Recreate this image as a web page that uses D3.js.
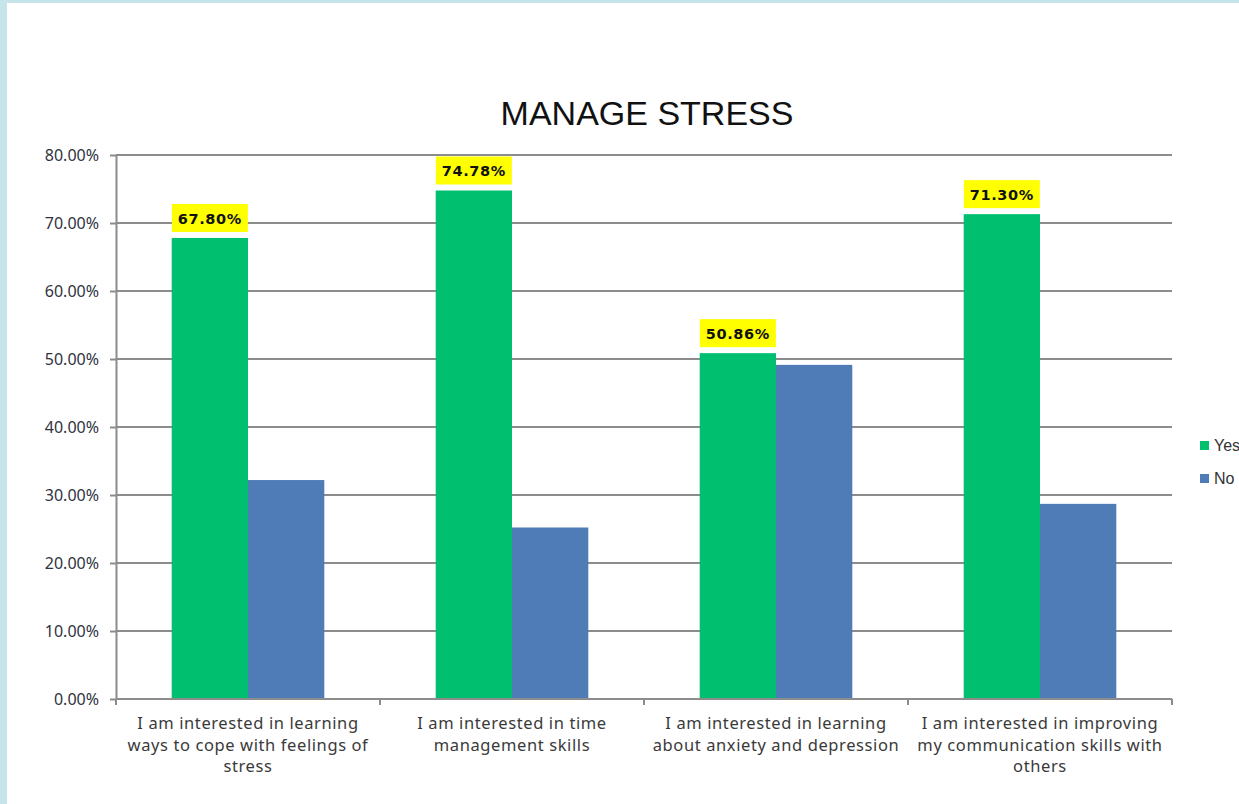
<!DOCTYPE html>
<html><head><meta charset="utf-8">
<script src="https://cdn.jsdelivr.net/npm/d3@7"></script>
<style>
html,body{margin:0;padding:0;background:#fff;}
svg{display:block;}
</style></head>
<body>
<svg id="chart" width="1239" height="804"></svg>
<script>
const categories = [
  ["I am interested in learning","ways to cope with feelings of","stress"],
  ["I am interested in time","management skills"],
  ["I am interested in learning","about anxiety and depression"],
  ["I am interested in improving","my communication skills with","others"]
];
const seriesNames = ["Yes","No"];
const yesValues = [67.80, 74.78, 50.86, 71.30];
const noValues = [32.20, 25.22, 49.14, 28.70];
const yTicks = [0,10,20,30,40,50,60,70,80];
const title = "MANAGE STRESS";
const colors = {Yes:"#00bf6f", No:"#4f7cb6"};

const svg = d3.select("#chart");
// slide background border
svg.append("rect").attr("x",0).attr("y",0).attr("width",1239).attr("height",804).attr("fill","#c6e4ea");
svg.append("rect").attr("x",7).attr("y",3).attr("width",1232).attr("height",801).attr("fill","#fff");

const m = {left:116, right:1172, top:155, bottom:699};
const x0 = d3.scaleBand().domain(d3.range(categories.length)).range([m.left, m.right]).paddingInner(0).paddingOuter(0);
const x1 = d3.scaleBand().domain(seriesNames).range([0, x0.bandwidth()]).paddingInner(0).paddingOuter(0.73);
const y = d3.scaleLinear().domain([0,80]).range([m.bottom, m.top]);

// gridlines
svg.append("g").selectAll("line").data(yTicks.filter(t=>t>0)).join("line")
  .attr("x1",m.left).attr("x2",m.right).attr("y1",d=>y(d)).attr("y2",d=>y(d))
  .attr("stroke","#8c8c8c").attr("stroke-width",2);

// y axis
const yAxis = svg.append("g").attr("transform",`translate(${m.left},0)`)
  .call(d3.axisLeft(y).tickValues(yTicks).tickSize(6).tickSizeOuter(0).tickFormat(d=>d.toFixed(2)+"%"));
yAxis.select(".domain").attr("stroke","#8c8c8c").attr("stroke-width",2);
yAxis.selectAll(".tick line").attr("stroke","#8c8c8c").attr("stroke-width",2);
yAxis.selectAll(".tick text").attr("font-family","Noto Sans").attr("font-size",16)
  .attr("fill","#2f3340").attr("x",-17);

// bars
const groups = svg.append("g").selectAll("g").data(categories.map((c,i)=>i)).join("g")
  .attr("transform",i=>`translate(${x0(i)},0)`);
groups.selectAll("rect").data(i=>[{k:"Yes",v:yesValues[i]},{k:"No",v:noValues[i]}]).join("rect")
  .attr("x",d=>x1(d.k)).attr("width",x1.bandwidth())
  .attr("y",d=>y(d.v)).attr("height",d=>y(0)-y(d.v))
  .attr("fill",d=>colors[d.k]);

// x axis
const xAxis = svg.append("g").attr("transform",`translate(0,${m.bottom})`);
xAxis.append("line").attr("x1",m.left).attr("x2",m.right).attr("y1",0).attr("y2",0)
  .attr("stroke","#8c8c8c").attr("stroke-width",2);
xAxis.selectAll("line.tk").data(d3.range(categories.length+1)).join("line").attr("class","tk")
  .attr("x1",i=> i<categories.length ? x0(i) : m.right).attr("x2",i=> i<categories.length ? x0(i) : m.right)
  .attr("y1",0).attr("y2",6).attr("stroke","#8c8c8c").attr("stroke-width",2);

// category labels
categories.forEach((lines,i)=>{
  const t = svg.append("text").attr("text-anchor","middle")
    .attr("font-family","Noto Sans").attr("font-size",16.5).attr("letter-spacing","0.6px").attr("fill","#3a3a3a");
  lines.forEach((ln,j)=>{
    t.append("tspan").attr("x",x0(i)+x0.bandwidth()/2).attr("y",729+j*21.5).text(ln);
  });
});

// data labels on Yes bars
yesValues.forEach((v,i)=>{
  const cx = x0(i)+x1("Yes")+x1.bandwidth()/2;
  const by = y(v)-6;
  svg.append("rect").attr("x",cx-38).attr("y",by-28).attr("width",76).attr("height",28).attr("fill","#ffff00");
  svg.append("text").attr("x",cx).attr("y",by-8).attr("text-anchor","middle")
    .attr("font-family","DejaVu Sans").attr("font-weight","bold").attr("font-size",14.5)
    .attr("letter-spacing","0.6px").attr("fill","#111").text(v.toFixed(2)+"%");
});

// title
svg.append("text").attr("x",647).attr("y",125).attr("text-anchor","middle")
  .attr("font-family","Liberation Sans").attr("font-size",34).attr("fill","#111").text(title);

// legend
seriesNames.forEach((s,i)=>{
  const ly = 445 + i*33;
  svg.append("rect").attr("x",1200).attr("y",ly-4).attr("width",9).attr("height",9).attr("fill",colors[s]);
  svg.append("text").attr("x",1214).attr("y",ly+6).attr("font-family","Liberation Sans").attr("font-size",16)
    .attr("fill","#333").text(s);
});
</script>
</body></html>
